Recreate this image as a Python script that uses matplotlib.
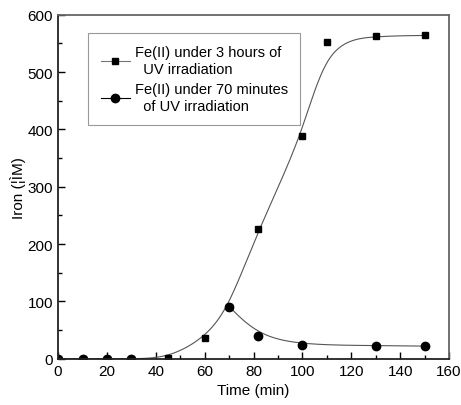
import matplotlib
matplotlib.use("Agg")
import matplotlib.pyplot as plt
import numpy as np
from matplotlib.ticker import MultipleLocator

plt.rcParams['font.family'] = ['Liberation Sans', 'DejaVu Sans']

# ============= DATA =============
time_3h = [0, 10, 20, 30, 45, 60, 70, 82, 100, 110, 130, 150]
iron_3h = [0, 0, 0, 0, 1, 36, 90, 227, 388, 553, 563, 564]

time_70 = [0, 10, 20, 30, 70, 82, 100, 130, 150]
iron_70 = [0, 0, 0, 0, 91, 40, 24, 23, 22]

uv_off = 70  # circle curve starts where irradiation stops

label_3h = "Fe(II) under 3 hours of\n  UV irradiation"
label_70 = "Fe(II) under 70 minutes\n  of UV irradiation"


def bspline(x, y, n=40):
    """Uniform cubic B-spline with data points as control points (clamped ends)"""
    px = np.concatenate([[x[0]] * 2, x, [x[-1]] * 2]).astype(float)
    py = np.concatenate([[y[0]] * 2, y, [y[-1]] * 2]).astype(float)
    t = np.linspace(0, 1, n)
    b0 = (1 - t) ** 3 / 6
    b1 = (3 * t ** 3 - 6 * t ** 2 + 4) / 6
    b2 = (-3 * t ** 3 + 3 * t ** 2 + 3 * t + 1) / 6
    b3 = t ** 3 / 6
    xs, ys = [], []
    for i in range(len(px) - 3):
        xs.append(b0 * px[i] + b1 * px[i + 1] + b2 * px[i + 2] + b3 * px[i + 3])
        ys.append(b0 * py[i] + b1 * py[i + 1] + b2 * py[i + 2] + b3 * py[i + 3])
    return np.concatenate(xs), np.concatenate(ys)


fig = plt.figure(figsize=(4.61, 4.06), dpi=100)
ax = fig.add_axes([0.126, 0.114, 0.848, 0.847])

# curves
cx, cy = bspline(np.array(time_3h), np.array(iron_3h))
ax.plot(cx, cy, color='#555555', lw=0.8)
t70 = np.array(time_70)
i70 = np.array(iron_70)
mask = t70 >= uv_off
dx, dy = bspline(t70[mask], i70[mask])
ax.plot(dx, dy, color='#555555', lw=0.8)

# markers
ax.plot(time_3h, iron_3h, 's', color='black', ms=5)
ax.plot(time_70, iron_70, 'o', color='black', ms=6)

# legend handles
h1, = ax.plot([], [], '-s', color='#777777', mfc='black', mec='black', ms=5, lw=0.8)
h2, = ax.plot([], [], '-o', color='black', ms=6, lw=0.8)
leg = ax.legend([h1, h2], [label_3h, label_70], loc='upper left',
                bbox_to_anchor=(0.077, 0.948), borderaxespad=0, fontsize=10.5,
                fancybox=False, handlelength=2.0, handletextpad=0.35,
                labelspacing=0.35, borderpad=0.85)
leg.get_frame().set_edgecolor('#808080')
leg.get_frame().set_linewidth(0.8)
for txt in leg.get_texts():
    txt.set_linespacing(1.3)

ax.set_xlim(0, 160)
ax.set_ylim(0, 600)
ax.xaxis.set_major_locator(MultipleLocator(20))
ax.xaxis.set_minor_locator(MultipleLocator(10))
ax.yaxis.set_major_locator(MultipleLocator(100))
ax.yaxis.set_minor_locator(MultipleLocator(50))
ax.tick_params(which='both', direction='in', top=False, right=False, labelsize=11)
ax.tick_params(which='major', length=5, width=1)
ax.tick_params(which='minor', length=3, width=1)

for side in ['left', 'bottom']:
    ax.spines[side].set_color('#222222')
    ax.spines[side].set_linewidth(1.3)
for side in ['top', 'right']:
    ax.spines[side].set_color('#666666')
    ax.spines[side].set_linewidth(1.3)

ax.set_xlabel('Time (min)', fontsize=11)
ax.set_ylabel('Iron (¦ÌM)', fontsize=11, labelpad=1)

fig.savefig('out.png', dpi=100)
